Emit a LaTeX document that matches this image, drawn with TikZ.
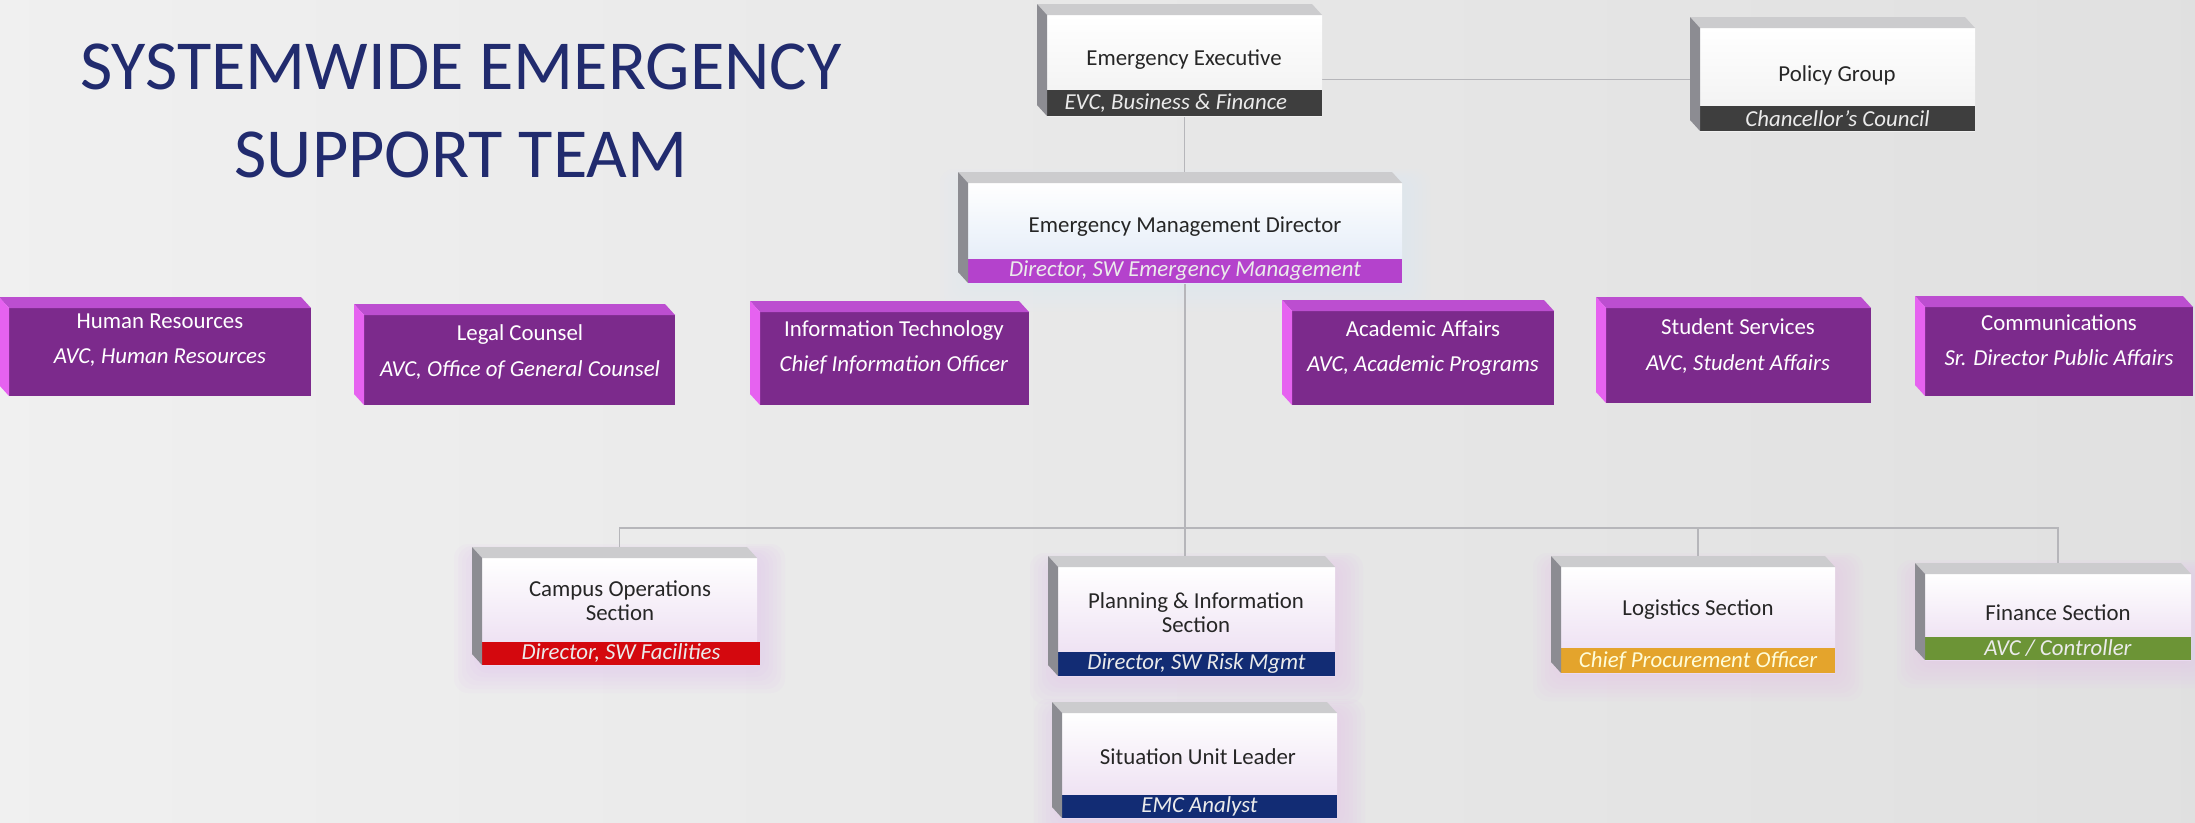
\documentclass[tikz,border=0pt]{standalone}
\usepackage{fontspec}
\setmainfont{Carlito}
\usetikzlibrary{fit,backgrounds,calc}

\definecolor{titleblue}{RGB}{33,43,110}
\definecolor{wiregray}{RGB}{182,182,186}
\definecolor{gtop}{RGB}{204,204,206}
\definecolor{gside}{RGB}{140,140,146}
\definecolor{ptop}{RGB}{188,78,208}
\definecolor{pside}{RGB}{230,98,240}
\definecolor{pfront}{RGB}{124,42,140}
\definecolor{darkbar}{RGB}{62,62,62}
\definecolor{magbar}{RGB}{180,66,204}
\definecolor{redbar}{RGB}{212,8,14}
\definecolor{navybar}{RGB}{18,44,116}
\definecolor{orangebar}{RGB}{228,164,44}
\definecolor{greenbar}{RGB}{108,148,54}
\definecolor{lav}{RGB}{234,218,240}
\definecolor{icy}{RGB}{222,232,246}
\definecolor{glowpink}{RGB}{228,196,238}

\begin{document}
\begin{tikzpicture}[x=0.2mm,y=-0.2mm,
    every node/.style={inner sep=0pt,outer sep=0pt},
    face/.style={top color=white,bottom color=#1},
    face/.default={white!94!black},
    role/.style={fill=#1},
    roletext/.style={text=white!92!black,font=\fontsize{13}{15}\selectfont\itshape},
    dept/.style={fill=pfront},
    head/.style={font=\fontsize{13}{13.5}\selectfont,text=black!85,align=center},
    depttext/.style={font=\fontsize{13}{20}\selectfont,text=white,align=center},
    conn/.style={draw=wiregray,line width=1.1pt}]
  \begin{scope}[on background layer]
    \fill[left color=white!94!black,right color=white!88!black]
      (0,0) rectangle (2195,822);
  \end{scope}
  \useasboundingbox (0,0) rectangle (2195,822);

  \node[font=\fontsize{40}{50}\selectfont,text=titleblue,align=center]
    (title) at (461,111) {SYSTEMWIDE EMERGENCY\\SUPPORT TEAM};

  % top of the chart
  \node[face,fit={(1047,15) (1322,116)}] (exec) {};
  \node[role=darkbar,fit={(1047,90) (1322,116)}] (exec-role) {};
  \node[roletext,anchor=west] (exec-rt) at ([xshift=10]exec-role.west)
    {EVC, Business \& Finance};
  \node[head] (exec-t) at (1184,60) {Emergency Executive};

  \node[face,fit={(1700,28) (1975,131)}] (policy) {};
  \node[role=darkbar,fit={(1700,106) (1975,131)}] (policy-role) {};
  \node[roletext] (policy-rt) at (policy-role) {Chancellor's Council};
  \node[head] (policy-t) at (1837,75) {Policy Group};

  \node[face=icy,fit={(968,183) (1402,283)}] (emd) {};
  \node[role=magbar,fit={(968,259) (1402,283)}] (emd-role) {};
  \node[roletext] (emd-rt) at (emd-role) {Director, SW Emergency Management};
  \node[head] (emd-t) at (1185,227) {Emergency Management Director};

  % purple row
  \node[dept,fit={(9,308) (311,396)}] (hr) {};
  \node[depttext] (hr-t) at (160,340) {Human Resources\\\textit{AVC, Human Resources}};
  \node[dept,fit={(364,315) (675,405)}] (legal) {};
  \node[depttext] (legal-t) at (520,352) {Legal Counsel\\\textit{AVC, Office of General Counsel}};
  \node[dept,fit={(760,312) (1029,405)}] (it) {};
  \node[depttext] (it-t) at (894,347) {Information Technology\\\textit{Chief Information Officer}};
  \node[dept,fit={(1292,311) (1554,405)}] (acad) {};
  \node[depttext] (acad-t) at (1423,348) {Academic Affairs\\\textit{AVC, Academic Programs}};
  \node[dept,fit={(1606,308) (1871,403)}] (stud) {};
  \node[depttext] (stud-t) at (1738,346) {Student Services\\\textit{AVC, Student Affairs}};
  \node[dept,fit={(1925,307) (2193,396)}] (comm) {};
  \node[depttext] (comm-t) at (2059,340) {Communications\\\textit{Sr. Director Public Affairs}};

  % sections
  \node[face=lav,fit={(482,558) (757,665)}] (campus) {};
  \node[role=redbar,fit={(482,642) (760,665)}] (campus-role) {};
  \node[roletext] (campus-rt) at (campus-role) {Director, SW Facilities};
  \node[head] (campus-t) at (620,601) {Campus Operations\\Section};

  \node[face=lav,fit={(1058,567) (1335,676)}] (planning) {};
  \node[role=navybar,fit={(1058,652) (1335,676)}] (planning-role) {};
  \node[roletext] (planning-rt) at (planning-role) {Director, SW Risk Mgmt};
  \node[head] (planning-t) at (1196,613) {Planning \& Information\\Section};

  \node[face=lav,fit={(1062,713) (1337,818)}] (situation) {};
  \node[role=navybar,fit={(1062,795) (1337,818)}] (situation-role) {};
  \node[roletext] (situation-rt) at (situation-role) {EMC Analyst};
  \node[head] (situation-t) at (1198,757) {Situation Unit Leader};

  \node[face=lav,fit={(1561,567) (1835,673)}] (logistics) {};
  \node[role=orangebar,fit={(1561,648) (1835,673)}] (logistics-role) {};
  \node[roletext,text=yellow!15] (logistics-rt) at (logistics-role)
    {Chief Procurement Officer};
  \node[head] (logistics-t) at (1698,610) {Logistics Section};

  \node[face=lav,fit={(1925,574) (2191,660)}] (finance) {};
  \node[role=greenbar,fit={(1925,637) (2191,660)}] (finance-role) {};
  \node[roletext] (finance-rt) at (finance-role) {AVC / Controller};
  \node[head] (finance-t) at (2058,613) {Finance Section};

  % bevels
  \foreach \n/\tc/\sc in {exec/gtop/gside,policy/gtop/gside,emd/gtop/gside,
      campus/gtop/gside,planning/gtop/gside,situation/gtop/gside,
      logistics/gtop/gside,finance/gtop/gside,hr/ptop/pside,legal/ptop/pside,
      it/ptop/pside,acad/ptop/pside,stud/ptop/pside,comm/ptop/pside}{
    \fill[\tc] (\n.north west) -- (\n.north east) -- ++(-10,-11)
      -- ([shift={(-10,-11)}]\n.north west) -- cycle;
    \fill[\sc] (\n.north west) -- ([shift={(-10,-11)}]\n.north west)
      -- ([shift={(-10,-11)}]\n.south west) -- (\n.south west) -- cycle;
  }

  % glow and lines
  \coordinate (bus) at (1187,528);
  \begin{scope}[on background layer]
    \foreach \n/\g in {emd/icy,campus/glowpink,planning/glowpink,
        situation/glowpink,logistics/glowpink,finance/glowpink}
      \foreach \r in {4,8,...,28}
        \fill[\g,opacity=0.09,rounded corners=8pt]
          ([shift={(-\r,-\r/2)}]\n.north west) rectangle ([shift={(\r,\r)}]\n.south east);
    \draw[conn] (exec.south) -- (exec.south |- emd.north);
    \draw[conn] (policy.west) -- (policy.west -| exec.east);
    \draw[conn] (emd.south) -- (emd.south |- planning.north);
    \draw[conn] (campus.north) -- (campus.north |- bus) -- (finance.north |- bus)
      -- (finance.north);
    \draw[conn] (logistics.north) -- (logistics.north |- bus);
  \end{scope}
\end{tikzpicture}
\end{document}
